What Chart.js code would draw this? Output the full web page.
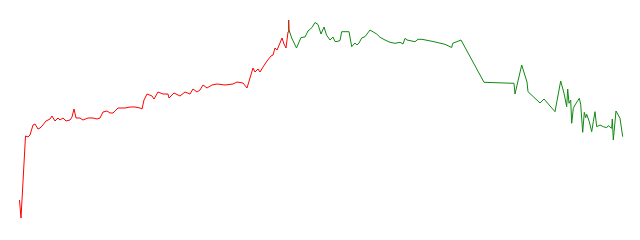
<!DOCTYPE html>
<html>
<head>
<meta charset="utf-8">
<script src="https://cdn.jsdelivr.net/npm/chart.js@4"></script>
<style>
  html, body { margin: 0; padding: 0; background: #fff; }
  #wrap { width: 640px; height: 240px; }
</style>
</head>
<body>
<div id="wrap"><canvas id="grafico"></canvas></div>
<script>
// serie vermelha (primeira parte)
var tempoVermelho = [19.5,21,25.5,28,30,33,35,38,40,42,46,50,52,55,58,60,63,66,70,72,74,76,80,83,88,93,97,100,103,107,110,113,118,125,130,135,140,142,144,147,152,154,158,163,168,169,174,180,185,190,193,197,200,203,207,212,217,225,233,237,243,247,250,253,255,258,260,263,267,271,273,275,277,280,282,284,286,288,288.7];
var valorVermelho = [40,22,104,103,105,115,116,111,112,114,119,121,124,119,122,120,122,119,120,123,131,122,122,120,122,122,121,122,128,129,127,127,132,132,133,133,132,131,140,146,144,141,148,146,146,142,147,144,148,146,151,148,150,155,152,155,156,155,156,158,157,152,162,172,168,171,168,173,179,184,185,192,190,197,202,196,192,208,220];

// serie verde (segunda parte)
var tempoVerde = [288.7,289,291.7,296.5,301,305,308,312,315,318,321,324,326.5,330,333,335,337,340,341.7,349,351.7,355,357,359,361.7,365,370,376.7,380,385,390,395,400,403,405,407,415,418,422,433,445,451.7,452.7,461,484,514,515,521.7,527,528,540,544,555,560.7,564,566.7,567.7,569,570.7,571.7,573.3,575,579.3,580.7,582.7,584.3,585.7,586.7,589.3,591.7,593.3,595,596.7,600,603.3,606.7,608.3,611.7,612.3,613.3,616,620,622.7];
var valorVerde = [220,210,202,192,202.5,203,209,212.5,217.5,215.5,206,213,205,200,203,198.5,198.5,199.5,208.3,208.3,193.3,197,195,197,202,203.3,210,206,202.7,200,197.7,196.7,197.7,196,201.7,200,198.3,200.7,200.7,198.5,195.7,192.5,196.7,200,157.7,156.7,146,175,158,148.3,137,141,128.3,159,146.7,133.3,151,136.7,140,116.7,131.7,135,141.7,135.7,107.7,127.7,122.3,125.7,118.3,108.3,118.3,128.3,113.3,115,113.3,112.3,114.3,111.7,121,100,129,121.7,103.3];

function pares(xs, ys) {
  var out = [];
  for (var i = 0; i < xs.length; i++) out.push({ x: xs[i], y: ys[i] });
  return out;
}

function init() {
  var ctx = document.getElementById("grafico").getContext("2d");
  new Chart(ctx, {
    type: "scatter",
    data: {
      datasets: [
        { data: pares(tempoVermelho, valorVermelho), borderColor: "#ff0000", borderWidth: 1, showLine: true, pointRadius: 0, fill: false, tension: 0 },
        { data: pares(tempoVerde, valorVerde), borderColor: "#118811", borderWidth: 1, showLine: true, pointRadius: 0, fill: false, tension: 0 }
      ]
    },
    options: {
      responsive: true,
      maintainAspectRatio: false,
      animation: false,
      layout: { padding: 0 },
      plugins: { legend: { display: false }, tooltip: { enabled: false } },
      scales: {
        x: { type: "linear", display: false, min: 0, max: 640 },
        y: { type: "linear", display: false, min: 0, max: 240 }
      }
    }
  });
}
window.addEventListener("DOMContentLoaded", init);
</script>
</body>
</html>
